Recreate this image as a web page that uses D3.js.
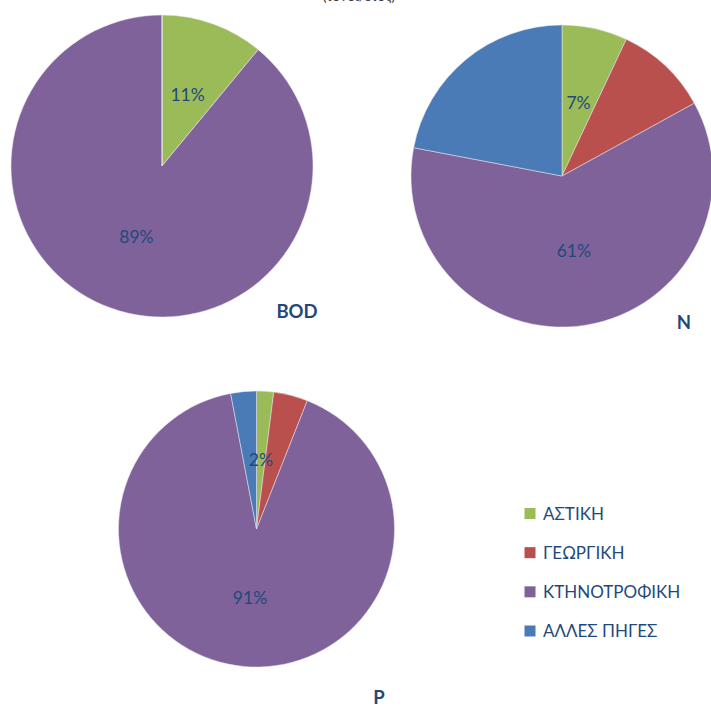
<!DOCTYPE html>
<html><head><meta charset="utf-8">
<script src="https://cdn.jsdelivr.net/npm/d3@7"></script>
<style>body{margin:0;background:#fff}svg{display:block}</style>
</head><body>
<svg id="c" width="711" height="707"></svg>
<script>
const categories = ["ΑΣΤΙΚΗ", "ΓΕΩΡΓΙΚΗ", "ΚΤΗΝΟΤΡΟΦΙΚΗ", "ΑΛΛΕΣ ΠΗΓΕΣ"];
const pollutants = ["BOD", "N", "P"];
const bodValues = [11, 0, 89, 0];
const nValues = [7, 10, 61, 22];
const pValues = [2, 4, 91, 3];
const labelShown = [true, false, true, false];
const colors = ["#9BBB59", "#BA504D", "#7E6299", "#4A7BB6"];
const titleText = "(τόνοι/έτος)";

const svg = d3.select("#c");
const font = "Lato, 'Open Sans', sans-serif";
const textColor = "#1F497D";
const color = d3.scaleOrdinal().domain(categories).range(colors);

svg.append("text").attr("x", 359).attr("y", 1).attr("text-anchor", "middle")
  .attr("font-family", font).attr("font-size", 14).attr("fill", "#404040").text(titleText);

const pies = [
  {name: pollutants[0], values: bodValues, cx: 162, cy: 166, r: 151, lx: 297, ly: 318},
  {name: pollutants[1], values: nValues, cx: 562, cy: 176, r: 151, lx: 684, ly: 329},
  {name: pollutants[2], values: pValues, cx: 256.5, cy: 529, r: 138, lx: 379, ly: 704}
];

const pie = d3.pie().sort(null).value(d => d.v);
pies.forEach(p => {
  const data = pie(categories.map((c, i) => ({c, v: p.values[i], i})));
  const g = svg.append("g").attr("transform", `translate(${p.cx},${p.cy})`);
  const arc = d3.arc().innerRadius(0).outerRadius(p.r);
  const labelArc = d3.arc().innerRadius(p.r * 0.5).outerRadius(p.r * 0.5);
  g.selectAll("path").data(data).join("path")
    .attr("d", arc).attr("fill", d => color(d.data.c))
    .attr("stroke", "#e8e8f0").attr("stroke-width", 0.5);
  g.selectAll("text").data(data.filter(d => labelShown[d.data.i] && d.data.v > 0)).join("text")
    .attr("transform", d => `translate(${labelArc.centroid(d)})`)
    .attr("text-anchor", "middle").attr("dy", "0.36em")
    .attr("font-family", font).attr("font-size", 17.5).attr("fill", textColor)
    .text(d => d.data.v + "%");
  svg.append("text").attr("x", p.lx).attr("y", p.ly).attr("text-anchor", "middle")
    .attr("font-family", font).attr("font-weight", "bold").attr("font-size", 18.5)
    .attr("fill", textColor).text(p.name);
});

const legend = svg.append("g");
const ly = d3.scalePoint().domain(categories).range([513.5, 631]);
categories.forEach(c => {
  legend.append("rect").attr("x", 524.5).attr("y", ly(c) - 5.5).attr("width", 11).attr("height", 11)
    .attr("fill", color(c));
  legend.append("text").attr("x", 543).attr("y", ly(c)).attr("dy", "0.36em")
    .attr("font-family", font).attr("font-size", 17).attr("fill", textColor).text(c);
});
</script>
</body></html>
